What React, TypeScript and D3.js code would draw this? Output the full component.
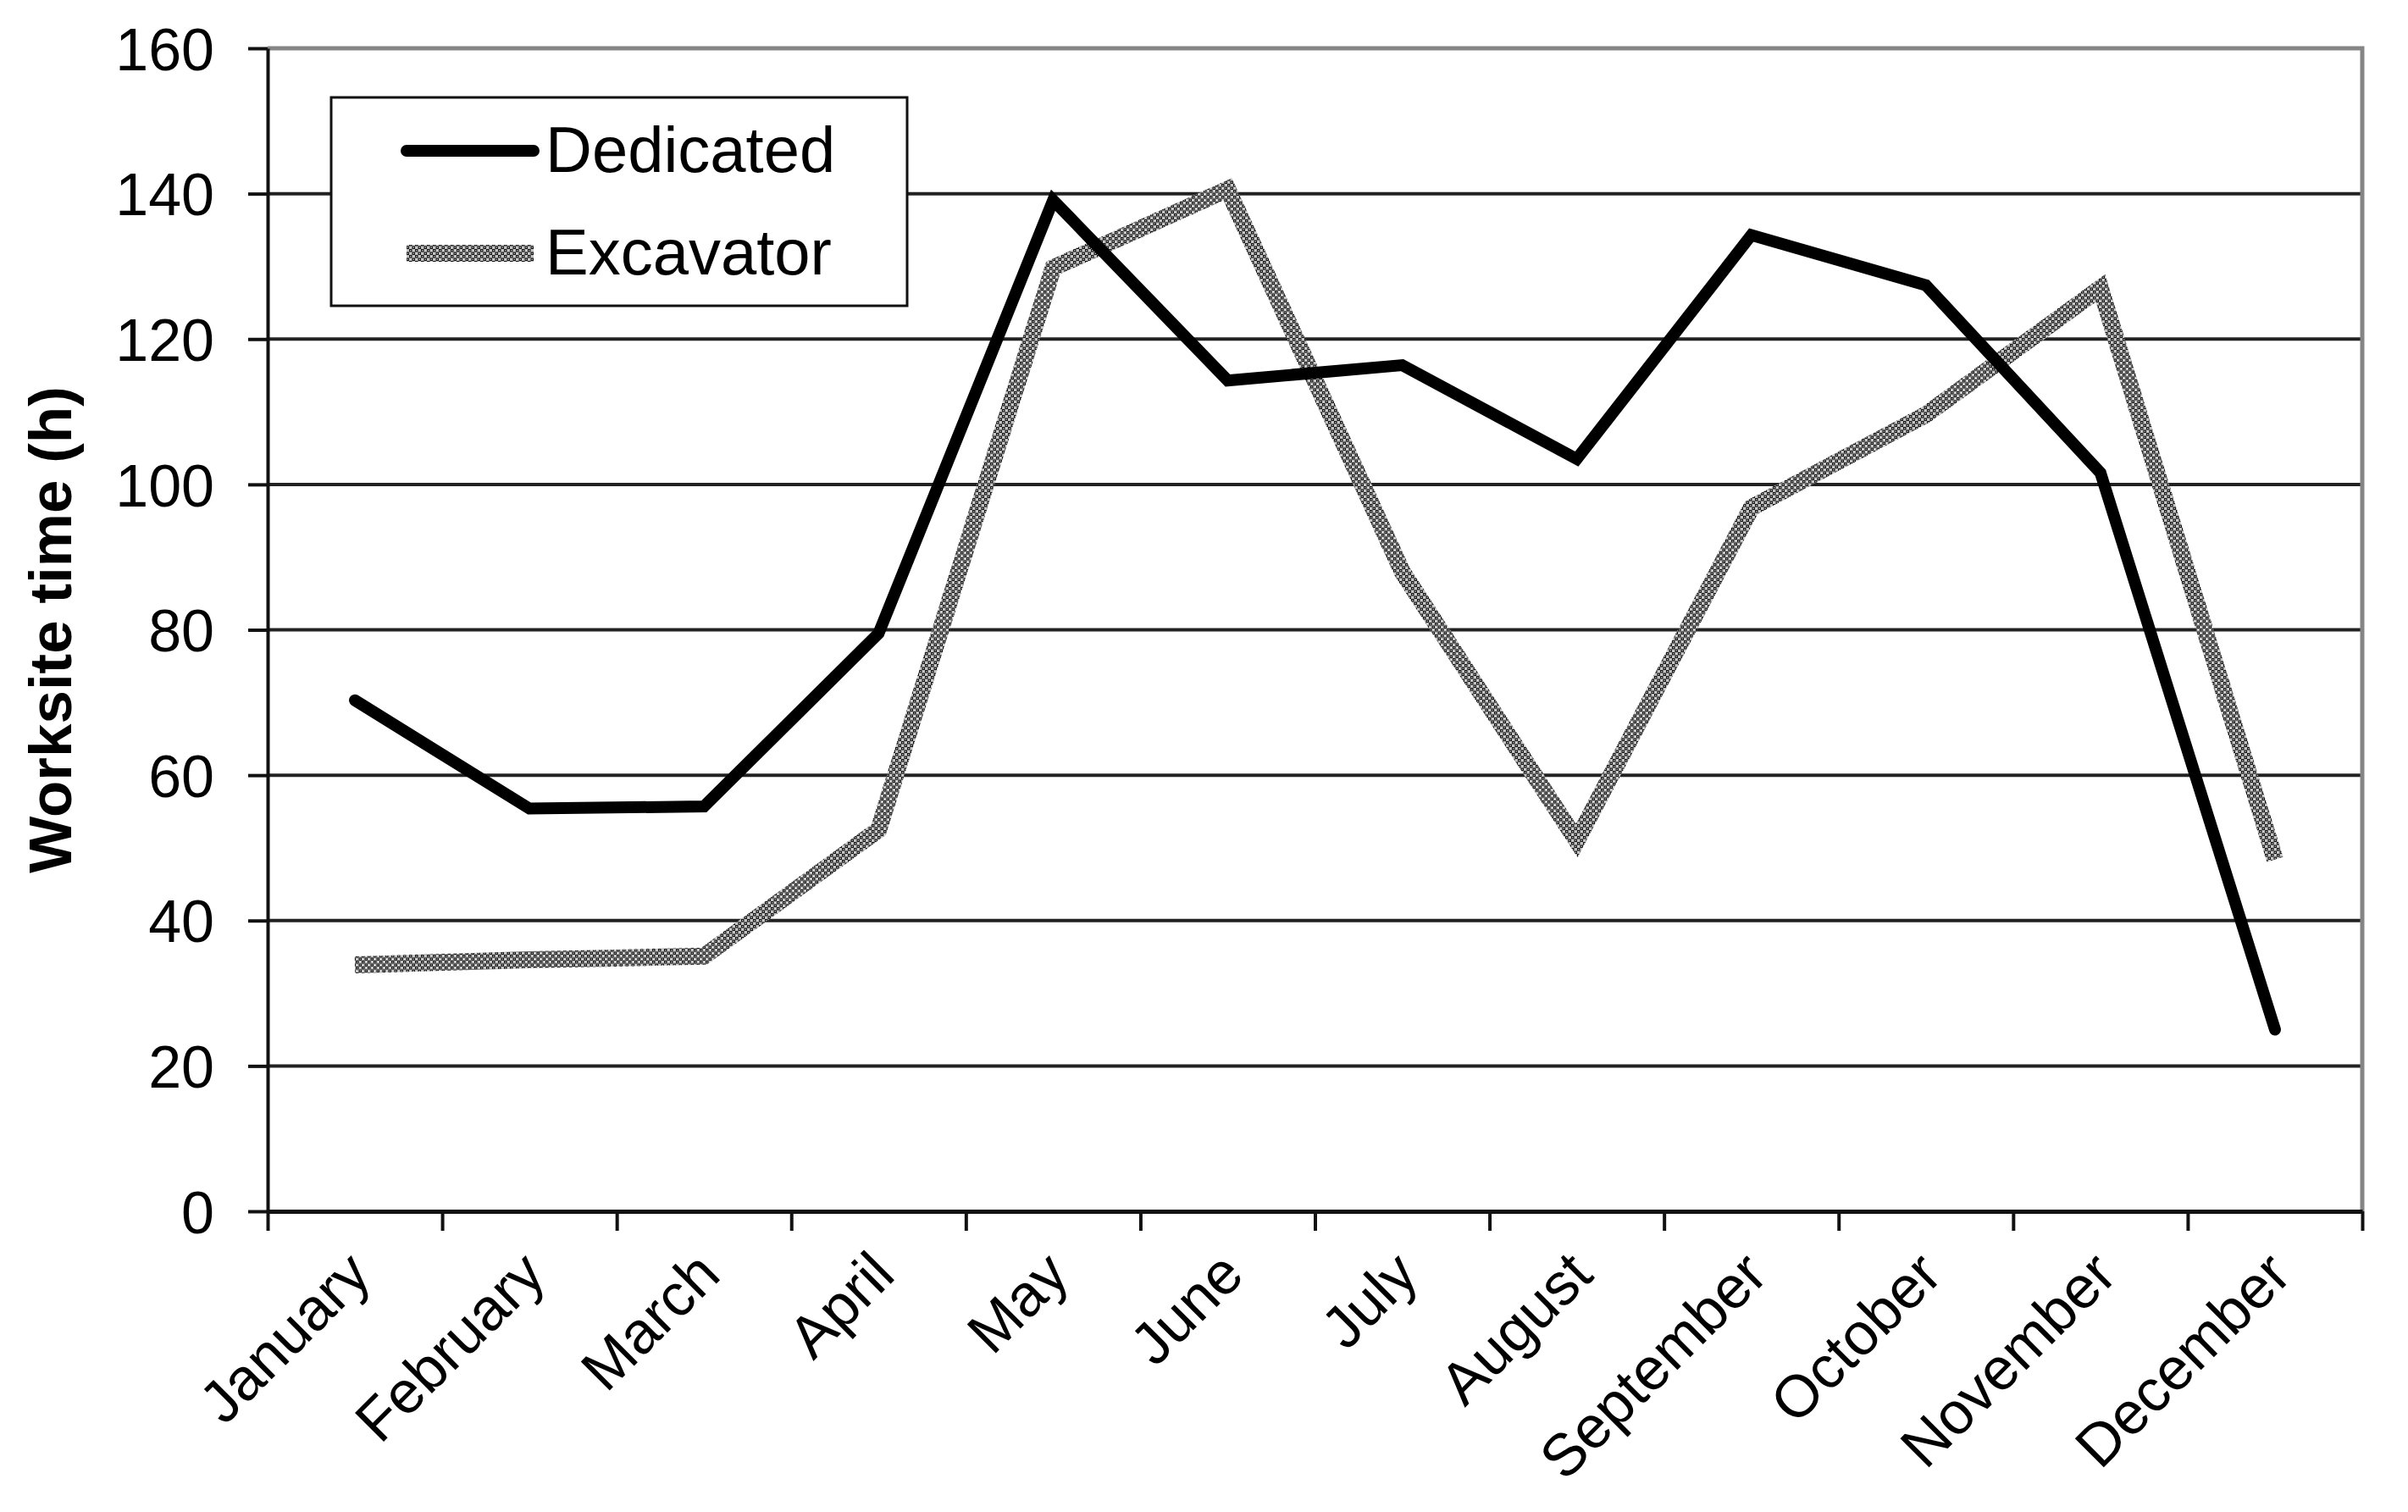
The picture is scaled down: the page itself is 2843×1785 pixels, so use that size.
import React, { useEffect, useRef } from "react";
import * as d3 from "d3";

const months = [
  "January",
  "February",
  "March",
  "April",
  "May",
  "June",
  "July",
  "August",
  "September",
  "October",
  "November",
  "December",
];
const dedicated = [70.3, 55.4, 55.7, 79.5, 139.1, 114.3, 116.4, 103.5, 134.3, 127.4, 101.6, 25];
const excavator = [33.9, 34.6, 35.1, 52.5, 129.8, 140.6, 88, 51, 96.8, 109.6, 127, 48.4];
const yTicks = [0, 20, 40, 60, 80, 100, 120, 140, 160];

const App = () => {
  const ref: any = useRef();

  const width = 2843;
  const height = 1785;
  const margin = { top: 57, right: 54, bottom: 355, left: 316 };
  const font = "'Liberation Sans', Arial, sans-serif";

  useEffect(() => {
    const svg = d3.select(ref.current);
    svg.selectAll("*").remove();

    // checker pattern for the excavator line
    const defs = svg.append("defs");
    const pat = defs
      .append("pattern")
      .attr("id", "checker")
      .attr("patternUnits", "userSpaceOnUse")
      .attr("width", 7)
      .attr("height", 7);
    pat.append("rect").attr("width", 7).attr("height", 7).attr("fill", "#c4c4c4");
    pat.append("rect").attr("x", 0).attr("y", 0).attr("width", 3.5).attr("height", 3.5).attr("fill", "#111");
    pat.append("rect").attr("x", 3.5).attr("y", 3.5).attr("width", 3.5).attr("height", 3.5).attr("fill", "#111");
    pat.append("circle").attr("cx", 1.75).attr("cy", 1.75).attr("r", 0.7).attr("fill", "#eee");
    pat.append("circle").attr("cx", 5.25).attr("cy", 5.25).attr("r", 0.7).attr("fill", "#eee");

    const xScale = d3
      .scaleBand()
      .domain(months)
      .range([margin.left, width - margin.right])
      .paddingInner(0)
      .paddingOuter(0);
    const xEdge = d3
      .scaleLinear()
      .domain([0, months.length])
      .range([margin.left, width - margin.right]);
    const yScale = d3
      .scaleLinear()
      .domain([0, 160])
      .range([height - margin.bottom, margin.top]);

    const cx = (m: string) => (xScale(m) || 0) + xScale.bandwidth() / 2;

    // grid lines
    svg
      .append("g")
      .selectAll("line")
      .data(yTicks.filter((t) => t > 0 && t < 160))
      .join("line")
      .attr("x1", margin.left)
      .attr("x2", width - margin.right)
      .attr("y1", (d) => yScale(d))
      .attr("y2", (d) => yScale(d))
      .attr("stroke", "#222")
      .attr("stroke-width", 4);

    // plot border (top + right, gray)
    svg
      .append("path")
      .attr(
        "d",
        `M${margin.left},${yScale(160)}H${width - margin.right}V${yScale(0)}`
      )
      .attr("fill", "none")
      .attr("stroke", "#858585")
      .attr("stroke-width", 5);

    // Y axis
    const yAxis = d3
      .axisLeft(yScale)
      .tickValues(yTicks)
      .tickSize(23)
      .tickPadding(40)
      .tickSizeOuter(0);
    const yAxisGroup = svg
      .append("g")
      .attr("transform", `translate(${margin.left},0)`)
      .call(yAxis);
    yAxisGroup.select(".domain").attr("stroke", "#111").attr("stroke-width", 4);
    yAxisGroup.selectAll(".tick line").attr("stroke", "#111").attr("stroke-width", 4);
    yAxisGroup
      .selectAll(".tick text")
      .attr("fill", "#000")
      .attr("font-family", font)
      .attr("font-size", 70)
      .attr("dy", "0.36em");

    // X axis, ticks between categories
    const xAxis = d3
      .axisBottom(xEdge)
      .tickValues(d3.range(months.length + 1))
      .tickSize(23)
      .tickSizeOuter(0)
      .tickFormat(() => "");
    const xAxisGroup = svg
      .append("g")
      .attr("transform", `translate(0,${yScale(0)})`)
      .call(xAxis);
    xAxisGroup.select(".domain").attr("stroke", "#111").attr("stroke-width", 5);
    xAxisGroup.selectAll(".tick line").attr("stroke", "#111").attr("stroke-width", 4);

    // X labels rotated
    svg
      .append("g")
      .selectAll("text")
      .data(months)
      .join("text")
      .attr("transform", (d) => `translate(${cx(d) + 22},${yScale(0) + 78}) rotate(-45)`)
      .attr("text-anchor", "end")
      .attr("font-family", font)
      .attr("font-size", 70)
      .attr("fill", "#000")
      .text((d) => d);

    // Y axis label
    svg
      .append("text")
      .attr("transform", `translate(84,${(yScale(0) + yScale(160)) / 2}) rotate(-90)`)
      .attr("text-anchor", "middle")
      .attr("font-family", font)
      .attr("font-weight", "bold")
      .attr("font-size", 71)
      .attr("fill", "#000")
      .text("Worksite time (h)");

    // lines
    const line = d3
      .line<number>()
      .x((_, i) => cx(months[i]))
      .y((d) => yScale(d));

    svg
      .append("path")
      .datum(excavator)
      .attr("d", line)
      .attr("fill", "none")
      .attr("stroke", "url(#checker)")
      .attr("stroke-width", 20)
      .attr("stroke-linejoin", "miter");

    svg
      .append("path")
      .datum(dedicated)
      .attr("d", line)
      .attr("fill", "none")
      .attr("stroke", "#000")
      .attr("stroke-width", 14)
      .attr("stroke-linejoin", "miter")
      .attr("stroke-linecap", "round");

    // legend
    const legend = svg.append("g");
    legend
      .append("rect")
      .attr("x", 391)
      .attr("y", 115)
      .attr("width", 680)
      .attr("height", 246)
      .attr("fill", "#fff")
      .attr("stroke", "#111")
      .attr("stroke-width", 3);
    const items = [
      { name: "Dedicated", y: 178, stroke: "#000", w: 14 },
      { name: "Excavator", y: 299, stroke: "url(#checker)", w: 20 },
    ];
    items.forEach((it) => {
      legend
        .append("line")
        .attr("x1", 480)
        .attr("x2", 630)
        .attr("y1", it.y)
        .attr("y2", it.y)
        .attr("stroke", it.stroke)
        .attr("stroke-width", it.w)
        .attr("stroke-linecap", it.name === "Dedicated" ? "round" : "butt");
      legend
        .append("text")
        .attr("x", 644)
        .attr("y", it.y + 25)
        .attr("font-family", font)
        .attr("font-size", 76)
        .attr("fill", "#000")
        .text(it.name);
    });
  }, []);

  return (
    <div style={{ position: "absolute", left: 0, top: 0 }}>
      <svg ref={ref} width={width} height={height} style={{ display: "block", background: "#fff" }}></svg>
    </div>
  );
};

export default App;
